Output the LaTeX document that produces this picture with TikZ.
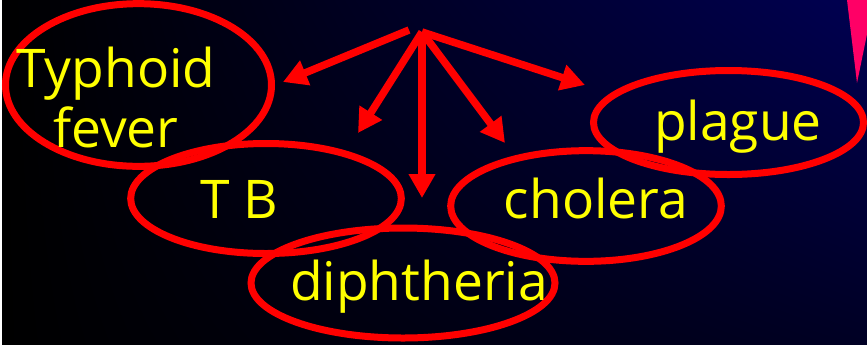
\documentclass[tikz,border=0pt]{standalone}
\usepackage{fontspec}
\setmainfont{Open Sans}
\usepackage{tikz}
\usetikzlibrary{shapes.geometric,arrows.meta,positioning,calc,shadings}
\usepackage{xcolor}
\definecolor{slidered}{RGB}{255,0,0}
\definecolor{slideyellow}{RGB}{255,255,0}
\definecolor{slidepink}{RGB}{255,0,102}
\definecolor{navytop}{RGB}{0,0,82}
\definecolor{navybot}{RGB}{0,0,36}

\begin{document}
\begin{tikzpicture}[x=0.75pt,y=-0.75pt,
  disease/.style={draw=slidered,ellipse,line width=5.25pt,inner sep=0pt},
  diseasetxt/.style={text=slideyellow,font=\fontsize{40}{42}\selectfont,inner sep=0pt,anchor=base},
  arr/.style={-{Triangle[length=18pt,width=19pt]},line width=5.6pt,draw=slidered}
]
  \useasboundingbox (0,0) rectangle (867,344);
  % Background
  \shade[upper left=black,lower left=black,upper right=navytop,lower right=navybot]
    (2,0) rectangle (867,344);
  \fill[slidepink] (847,0) -- (874,0) -- (857,83) -- cycle;
  % Diseases
  \node[disease,minimum width=199.5pt,minimum height=122pt] (typhoid) at (138.5,85) {};
  \node[disease,minimum width=203pt,minimum height=82.5pt] (tb) at (266,198.5) {};
  \node[disease,minimum width=228pt,minimum height=82.5pt] (diph) at (403,283) {};
  \node[disease,minimum width=203pt,minimum height=83pt] (cholera) at (586,206) {};
  \node[disease,minimum width=202.5pt,minimum height=78pt] (plague) at (728.5,122.5) {};
  % Labels
  \node[diseasetxt,anchor=center,align=center] (typhoidtxt) at (116,97) {Typhoid\\[3pt]fever};
  \node[diseasetxt] (tbtxt) at (239,218) {T B};
  \node[diseasetxt] (diphtxt) at (419,300) {diphtheria};
  \node[diseasetxt] (choleratxt) at (596,218) {cholera};
  \node[diseasetxt] (plaguetxt) at (738,140) {plague};
  % Arrows
  \coordinate (src) at (422,32);
  \coordinate (srcleft) at (409,30);
  \coordinate (totyphoid) at (283,82);
  \coordinate (totb) at (358,133);
  \coordinate (todiph) at (422,198);
  \coordinate (tocholera) at (505,143);
  \coordinate (toplague) at (585,85);
  \draw[arr] (srcleft) -- (totyphoid);
  \draw[arr] (src) -- (totb);
  \draw[arr] (src) -- (todiph);
  \draw[arr] (src) -- (tocholera);
  \draw[arr] (src) -- (toplague);
\end{tikzpicture}
\end{document}
